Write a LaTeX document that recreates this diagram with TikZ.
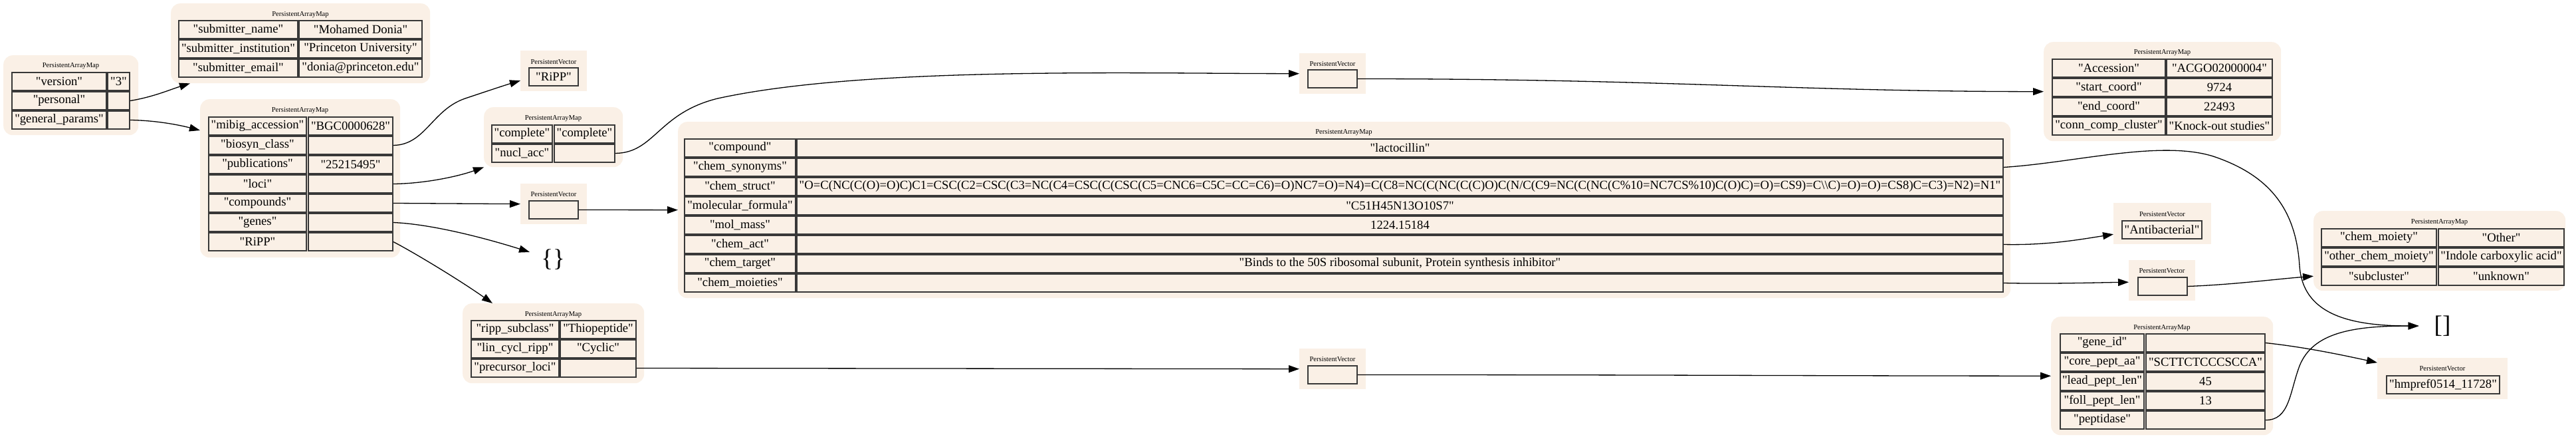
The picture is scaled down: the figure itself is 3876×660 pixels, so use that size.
\documentclass[tikz,border=0pt]{standalone}
\usepackage{fontspec}
\setmainfont{Liberation Serif}[Ligatures=TeXOff]
\usetikzlibrary{arrows.meta,calc}
\definecolor{linen}{HTML}{FAF0E6}
\newcommand\cf{\fontsize{18.67}{22}\selectfont}
\newcommand\tf{\fontsize{10.6}{12}\selectfont}
\newcommand\bigf{\fontsize{37}{40}\selectfont}
\tikzset{
 mapbg/.style={fill=linen, draw=none, rounded corners=14pt, inner sep=0pt, anchor=north west},
 vecbg/.style={fill=linen, draw=none, inner sep=0pt, anchor=north west},
 cellbox/.style={draw=black!78, line width=1.5pt, fill=linen, inner sep=0pt, font=\cf},
 ttl/.style={inner sep=0pt, font=\tf},
 edge/.style={draw=black, line width=1.3pt, -{Triangle[length=16pt,width=11pt]}},
}
\newcommand\clus[6]{\node[#1, minimum width={(#5)-(#3)}, minimum height={(#6)-(#4)}] (#2) at (#3,#4) {};}
\newcommand\cel[6]{\node[cellbox, minimum width={(#4)-(#2)}, minimum height={(#5)-(#3)}] (#1) at ({((#2)+(#4))/2},{((#3)+(#5))/2}) {#6};}
\begin{document}
\begin{tikzpicture}[x=1pt,y=-1pt]
\useasboundingbox (0,0) rectangle (3876,660);
\fill[white] (0,0) rectangle (3876,660);
% root map
\clus{mapbg}{root}{5}{83}{208}{203}
\node[ttl] (root-t) at (106.5,99) {PersistentArrayMap};
\cel{root-k1}{18}{109}{160}{136}{"version"}
\cel{root-v1}{162}{109}{195}{136}{"3"}
\cel{root-k2}{18}{138}{160}{165}{"personal"}
\cel{root-v2}{162}{138}{195}{165}{}
\cel{root-k3}{18}{167}{160}{194}{"general\_params"}
\cel{root-v3}{162}{167}{195}{194}{}
% submitter map
\clus{mapbg}{subm}{257}{5}{647}{125}
\node[ttl] (subm-t) at (452,22) {PersistentArrayMap};
\cel{subm-k1}{269}{31}{448}{58}{"submitter\_name"}
\cel{subm-v1}{450}{31}{635}{58}{"Mohamed Donia"}
\cel{subm-k2}{269}{60}{448}{87}{"submitter\_institution"}
\cel{subm-v2}{450}{60}{635}{87}{"Princeton University"}
\cel{subm-k3}{269}{89}{448}{116}{"submitter\_email"}
\cel{subm-v3}{450}{89}{635}{116}{"donia@princeton.edu"}
% general params map
\clus{mapbg}{gen}{301}{149}{602}{387}
\node[ttl] (gen-t) at (451.5,166) {PersistentArrayMap};
\cel{gen-k1}{314}{176}{461}{203}{"mibig\_accession"}
\cel{gen-v1}{464}{176}{591}{203}{"BGC0000628"}
\cel{gen-k2}{314}{205}{461}{232}{"biosyn\_class"}
\cel{gen-v2}{464}{205}{591}{232}{}
\cel{gen-k3}{314}{234}{461}{261}{"publications"}
\cel{gen-v3}{464}{234}{591}{261}{"25215495"}
\cel{gen-k4}{314}{263}{461}{290}{"loci"}
\cel{gen-v4}{464}{263}{591}{290}{}
\cel{gen-k5}{314}{292}{461}{319}{"compounds"}
\cel{gen-v5}{464}{292}{591}{319}{}
\cel{gen-k6}{314}{321}{461}{348}{"genes"}
\cel{gen-v6}{464}{321}{591}{348}{}
\cel{gen-k7}{314}{350}{461}{377}{"RiPP"}
\cel{gen-v7}{464}{350}{591}{377}{}
% biosyn vector
\clus{vecbg}{rippv}{783}{76}{883}{137}
\node[ttl] (rippv-t) at (833,93) {PersistentVector};
\cel{rippv-c}{796}{102}{870}{129}{"RiPP"}
% loci map
\clus{mapbg}{compl}{728}{161}{937}{251}
\node[ttl] (compl-t) at (832.5,178) {PersistentArrayMap};
\cel{compl-k1}{740}{188}{831}{215}{"complete"}
\cel{compl-v1}{834}{188}{925}{215}{"complete"}
\cel{compl-k2}{740}{217}{831}{244}{"nucl\_acc"}
\cel{compl-v2}{834}{217}{925}{244}{}
% compounds vector
\clus{vecbg}{compv}{783}{276}{883}{337}
\node[ttl] (compv-t) at (833,292) {PersistentVector};
\cel{compv-c}{796}{302}{870}{329}{}
% empty map
\node[inner sep=0pt, font=\bigf] (emptymap) at (832,390) {\{\}};
% RiPP map
\clus{mapbg}{rippm}{696}{456}{969}{576}
\node[ttl] (rippm-t) at (832.5,473) {PersistentArrayMap};
\cel{rippm-k1}{709}{482}{841}{509}{"ripp\_subclass"}
\cel{rippm-v1}{843}{482}{957}{509}{"Thiopeptide"}
\cel{rippm-k2}{709}{511}{841}{538}{"lin\_cycl\_ripp"}
\cel{rippm-v2}{843}{511}{957}{538}{"Cyclic"}
\cel{rippm-k3}{709}{540}{841}{567}{"precursor\_loci"}
\cel{rippm-v3}{843}{540}{957}{567}{}
% compound map
\clus{mapbg}{comp}{1020}{183}{3025}{448}
\node[ttl] (comp-t) at (2022,199) {PersistentArrayMap};
\cel{comp-k1}{1030}{209}{1197}{236}{"compound"}
\cel{comp-v1}{1199}{209}{3014}{236}{"lactocillin"}
\cel{comp-k2}{1030}{238}{1197}{265}{"chem\_synonyms"}
\cel{comp-v2}{1199}{238}{3014}{265}{}
\cel{comp-k3}{1030}{267}{1197}{294}{"chem\_struct"}
\cel{comp-v3}{1199}{267}{3014}{294}{"O=C(NC(C(O)=O)C)C1=CSC(C2=CSC(C3=NC(C4=CSC(C(CSC(C5=CNC6=C5C=CC=C6)=O)NC7=O)=N4)=C(C8=NC(C(NC(C(C)O)C(N/C(C9=NC(C(NC(C\%10=NC7CS\%10)C(O)C)=O)=CS9)=C\textbackslash\textbackslash C)=O)=O)=CS8)C=C3)=N2)=N1"}
\cel{comp-k4}{1030}{296}{1197}{323}{"molecular\_formula"}
\cel{comp-v4}{1199}{296}{3014}{323}{"C51H45N13O10S7"}
\cel{comp-k5}{1030}{325}{1197}{352}{"mol\_mass"}
\cel{comp-v5}{1199}{325}{3014}{352}{1224.15184}
\cel{comp-k6}{1030}{354}{1197}{381}{"chem\_act"}
\cel{comp-v6}{1199}{354}{3014}{381}{}
\cel{comp-k7}{1030}{383}{1197}{410}{"chem\_target"}
\cel{comp-v7}{1199}{383}{3014}{410}{"Binds to the 50S ribosomal subunit, Protein synthesis inhibitor"}
\cel{comp-k8}{1030}{412}{1197}{439}{"chem\_moieties"}
\cel{comp-v8}{1199}{412}{3014}{439}{}
% nucl_acc vector
\clus{vecbg}{lociv}{1955}{80}{2055}{141}
\node[ttl] (lociv-t) at (2005,96) {PersistentVector};
\cel{lociv-c}{1968}{105}{2042}{132}{}
% precursor vector
\clus{vecbg}{precv}{1955}{524}{2055}{585}
\node[ttl] (precv-t) at (2005,540) {PersistentVector};
\cel{precv-c}{1968}{550}{2042}{577}{}
% accession map
\clus{mapbg}{accm}{3075}{63}{3432}{212}
\node[ttl] (accm-t) at (3253.5,79) {PersistentArrayMap};
\cel{accm-k1}{3088}{89}{3258}{116}{"Accession"}
\cel{accm-v1}{3260}{89}{3419}{116}{"ACGO02000004"}
\cel{accm-k2}{3088}{118}{3258}{145}{"start\_coord"}
\cel{accm-v2}{3260}{118}{3419}{145}{9724}
\cel{accm-k3}{3088}{147}{3258}{174}{"end\_coord"}
\cel{accm-v3}{3260}{147}{3419}{174}{22493}
\cel{accm-k4}{3088}{176}{3258}{203}{"conn\_comp\_cluster"}
\cel{accm-v4}{3260}{176}{3419}{203}{"Knock-out studies"}
% chem_act vector
\clus{vecbg}{actv}{3180}{305}{3327}{367}
\node[ttl] (actv-t) at (3253.5,322) {PersistentVector};
\cel{actv-c}{3193}{332}{3313}{359}{"Antibacterial"}
% moieties vector
\clus{vecbg}{moiv}{3203}{391}{3303}{452}
\node[ttl] (moiv-t) at (3253,407) {PersistentVector};
\cel{moiv-c}{3217}{417}{3291}{444}{}
% other moiety map
\clus{mapbg}{othm}{3481}{317}{3860}{437}
\node[ttl] (othm-t) at (3670.5,334) {PersistentArrayMap};
\cel{othm-k1}{3493}{344}{3666}{371}{"chem\_moiety"}
\cel{othm-v1}{3669}{344}{3858}{371}{"Other"}
\cel{othm-k2}{3493}{373}{3666}{400}{"other\_chem\_moiety"}
\cel{othm-v2}{3669}{373}{3858}{400}{"Indole carboxylic acid"}
\cel{othm-k3}{3493}{402}{3666}{429}{"subcluster"}
\cel{othm-v3}{3669}{402}{3858}{429}{"unknown"}
% empty vector
\node[inner ysep=0pt, inner xsep=23pt, font=\bigf] (emptyvec) at (3675,490) {[]};
% precursor map
\clus{mapbg}{prem}{3086}{476}{3420}{654}
\node[ttl] (prem-t) at (3253,493) {PersistentArrayMap};
\cel{prem-k1}{3100}{502}{3226}{529}{"gene\_id"}
\cel{prem-v1}{3229}{502}{3408}{529}{}
\cel{prem-k2}{3100}{531}{3226}{558}{"core\_pept\_aa"}
\cel{prem-v2}{3229}{531}{3408}{558}{"SCTTCTCCCSCCA"}
\cel{prem-k3}{3100}{560}{3226}{587}{"lead\_pept\_len"}
\cel{prem-v3}{3229}{560}{3408}{587}{45}
\cel{prem-k4}{3100}{589}{3226}{616}{"foll\_pept\_len"}
\cel{prem-v4}{3229}{589}{3408}{616}{13}
\cel{prem-k5}{3100}{618}{3226}{645}{"peptidase"}
\cel{prem-v5}{3229}{618}{3408}{645}{}
% gene id vector
\clus{vecbg}{hmpv}{3577}{538}{3773}{600}
\node[ttl] (hmpv-t) at (3675,554) {PersistentVector};
\cel{hmpv-c}{3591}{565}{3761}{592}{"hmpref0514\_11728"}
% edges
\draw[edge] (root-v2.east) .. controls (230,146) and (255,135) .. ([xshift=29pt]subm.south west);
\draw[edge] (root-v3.east) .. controls (235,181) and (270,188) .. ([yshift=-47pt]gen.north west);
\draw[edge] (gen-v2.east) .. controls (640,218) and (650,165) .. (700,148) .. controls (730,138) and (760,128) .. ([yshift=-14.5pt]rippv.west);
\draw[edge] (gen-v4.east) .. controls (640,276) and (690,265) .. (compl.south west);
\draw[edge] (gen-v5.east) -- (compv.west);
\draw[edge] (gen-v6.east) .. controls (650,337) and (730,358) .. ([xshift=-17pt,yshift=11pt]emptymap.west);
\draw[edge] (gen-v7.east) .. controls (620,378) and (690,420) .. ([xshift=45pt]rippm.north west);
\draw[edge] (compl-v2.east) .. controls (985,230) and (990,170) .. (1080,148) .. controls (1300,100) and (1700,110.5) .. (lociv.west);
\draw[edge] (compv-c.east) -- (comp.west);
\draw[edge] (lociv-c.east) .. controls (2500,118.5) and (2700,137.5) .. (accm.west);
\draw[edge] (rippm-v3.east) -- (precv.west);
\draw[edge] (precv-c.east) .. controls (2500,563.5) and (2700,565) .. (prem.west);
\draw[edge] (comp-v2.east) .. controls (3120,245) and (3250,210) .. (3330,235) .. controls (3420,265) and (3455,320) .. (3460,400) .. controls (3465,470) and (3530,490) .. (emptyvec.west);
\draw[edge] (comp-v6.east) .. controls (3080,369) and (3130,360) .. ([yshift=-16pt]actv.west);
\draw[edge] (comp-v8.east) .. controls (3080,427) and (3150,425) .. ([yshift=-2.5pt]moiv.west);
\draw[edge] (moiv-c.east) .. controls (3360,428) and (3420,420) .. ([yshift=-38pt]othm.west);
\draw[edge] (prem-v1.east) .. controls (3470,522) and (3530,535) .. ([yshift=24pt]hmpv.west);
\draw[edge] (prem-v5.east) .. controls (3445,632) and (3445,590) .. (3460,550) .. controls (3480,500) and (3540,490) .. (emptyvec.west);
\end{tikzpicture}
\end{document}
